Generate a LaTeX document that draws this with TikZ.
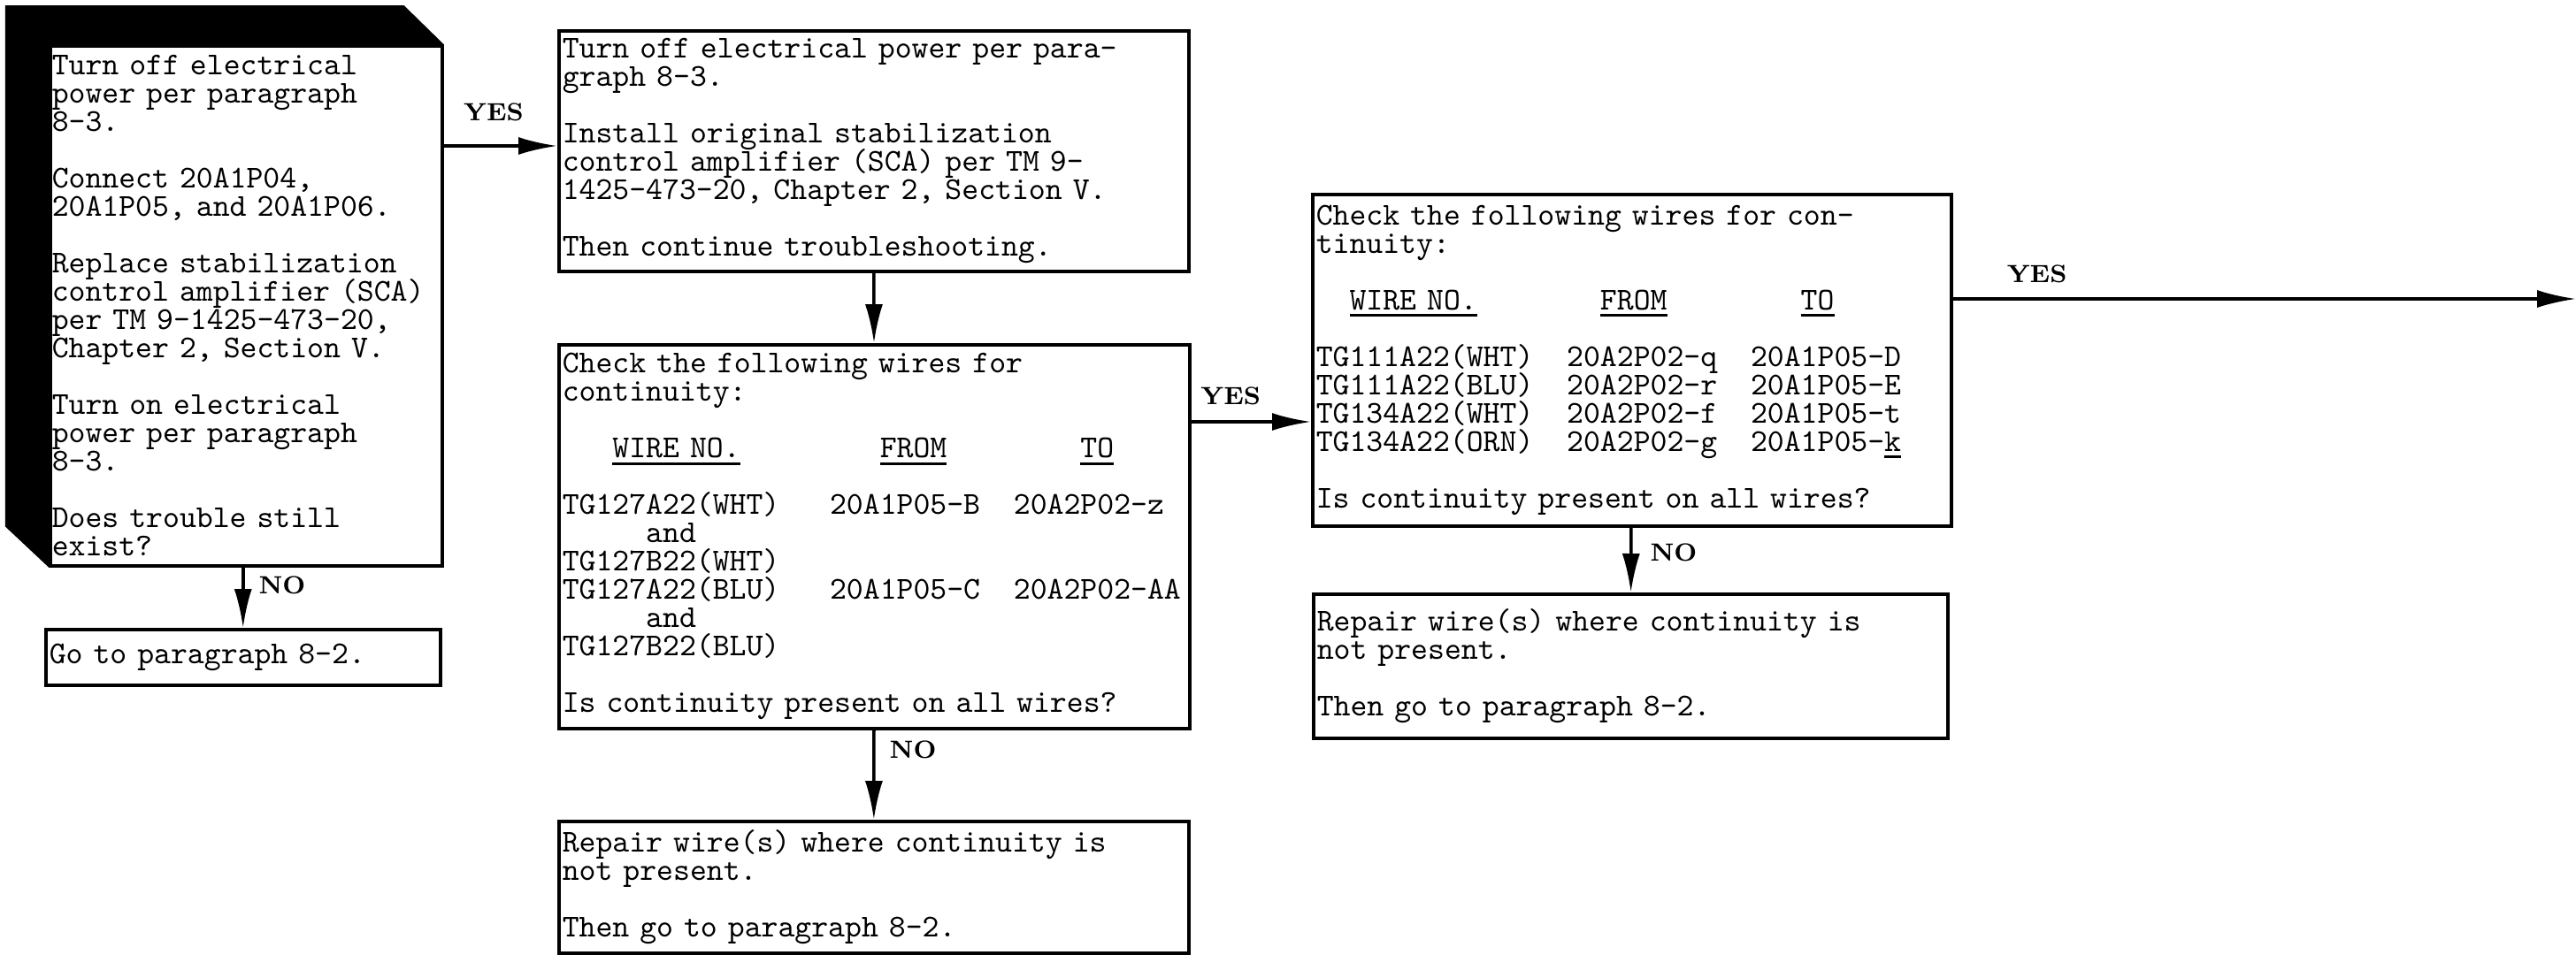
\documentclass[tikz,border=0pt]{standalone}
\usepackage{fontspec}
\usepackage{tikz}
\usetikzlibrary{arrows.meta,positioning,backgrounds}
\newfontfamily\tw{lmmono10-regular.otf}
\newlength{\cw}
\setlength{\cw}{5.376pt}
\newcommand{\undl}[1]{\leavevmode\vtop{\hbox{#1}\kern1.2pt\hrule height 0.9pt}}
\newcommand{\twsize}{\tw\fontsize{10.24pt}{9.1pt}\selectfont\lineskiplimit=-20pt\spaceskip=\cw\xspaceskip=\cw\relax}
\newcommand{\cell}[2]{\makebox[#1\cw][l]{#2}}

\begin{document}
\begin{tikzpicture}[
  box/.style={draw, line width=1pt, fill=white, anchor=north west, align=left,
    inner xsep=0.04cm, inner ysep=0pt, font=\twsize},
  arr/.style={line width=1pt, -{Latex[length=4.4mm,width=2mm]}},
  lbl/.style={font=\bfseries\fontsize{8}{8}\selectfont, inner sep=0pt}
]
\useasboundingbox (0,0) rectangle (29.12,-10.79);

\node[box, inner xsep=0.02cm, text width=4.39cm, minimum height=5.88cm] (power) at (0.55,-0.50)
  {Turn off electrical\\power per paragraph\\8-3.\\[\baselineskip]
   Connect 20A1P04,\\20A1P05, and 20A1P06.\\[\baselineskip]
   Replace stabilization\\control~amplifier~(SCA)\\per TM 9-1425-473-20,\\Chapter 2, Section V.\\[\baselineskip]
   Turn on electrical\\power per paragraph\\8-3.\\[\baselineskip]
   Does trouble still\\exist?};
\node[box, text width=7.04cm, minimum height=2.72cm] (orig) at (6.30,-0.33)
  {Turn off electrical power per para-\\graph 8-3.\\[\baselineskip]
   Install original stabilization\\control amplifier (SCA) per TM 9-\\1425-473-20, Chapter 2, Section V.\\[\baselineskip]
   Then continue troubleshooting.};
\node[box, text width=7.05cm, minimum height=4.34cm] (chk1) at (6.30,-3.88)
  {Check the following wires for\\continuity:\\[\baselineskip]
   \hspace*{3\cw}\cell{16}{\undl{WIRE NO.}}\cell{12}{\undl{FROM}}\undl{TO}\\[\baselineskip]
   \cell{16}{TG127A22(WHT)}\cell{11}{20A1P05-B}20A2P02-z\\
   \hspace*{5\cw}and\\
   TG127B22(WHT)\\
   \cell{16}{TG127A22(BLU)}\cell{11}{20A1P05-C}20A2P02-AA\\
   \hspace*{5\cw}and\\
   TG127B22(BLU)\\[\baselineskip]
   Is continuity present on all wires?};
\node[box, text width=7.04cm, minimum height=1.49cm] (rep1) at (6.30,-9.27)
  {Repair wire(s) where continuity is\\not present.\\[\baselineskip]
   Then go to paragraph 8-2.};
\node[box, text width=4.38cm, minimum height=0.63cm] (goto) at (0.50,-7.10)
  {Go to paragraph 8-2.};
\node[box, text width=7.14cm, minimum height=3.75cm] (chk2) at (14.82,-2.18)
  {Check the following wires for con-\\tinuity:\\[\baselineskip]
   \hspace*{2\cw}\cell{15}{\undl{WIRE NO.}}\cell{12}{\undl{FROM}}\undl{TO}\\[\baselineskip]
   \cell{15}{TG111A22(WHT)}\cell{11}{20A2P02-q}20A1P05-D\\
   \cell{15}{TG111A22(BLU)}\cell{11}{20A2P02-r}20A1P05-E\\
   \cell{15}{TG134A22(WHT)}\cell{11}{20A2P02-f}20A1P05-t\\
   \cell{15}{TG134A22(ORN)}\cell{11}{20A2P02-g}20A1P05-\undl{k}\\[\baselineskip]
   Is continuity present on all wires?};
\node[box, text width=7.09cm, minimum height=1.63cm] (rep2) at (14.83,-6.70)
  {Repair wire(s) where continuity is\\not present.\\[\baselineskip]
   Then go to paragraph 8-2.};

% black frame behind the first box
\begin{scope}[on background layer]
\fill ([shift={(-0.49,0.44)}]power.north west) -- ([shift={(-0.45,0.44)}]power.north east)
  -- (power.north east) -- (power.south west) -- ([shift={(-0.49,0.46)}]power.south west) -- cycle;
\end{scope}

\coordinate (yes1) at (orig.west |- 0,-1.65);
\coordinate (yes2) at (chk2.west |- 0,-4.77);
\coordinate (exit) at (29.12,-3.38);

\draw[arr] (power.east |- yes1) -- (yes1) node[lbl, pos=0.44, above=0.26cm] {YES};
\draw[arr] (orig) -- (chk1);
\draw[arr] (chk1.east |- yes2) -- (yes2) node[lbl, pos=0.33, above=0.17cm] {YES};
\draw[arr] (chk2.east |- exit) -- (exit) node[lbl, pos=0.135, above=0.16cm] {YES};
\draw[arr] (power.south -| goto.north) -- (goto) node[lbl, pos=0.3, right=0.16cm] {NO};
\draw[arr] (chk1) -- (rep1) node[lbl, pos=0.22, right=0.16cm] {NO};
\draw[arr] (chk2) -- (rep2) node[lbl, pos=0.39, right=0.2cm] {NO};
\end{tikzpicture}
\end{document}
